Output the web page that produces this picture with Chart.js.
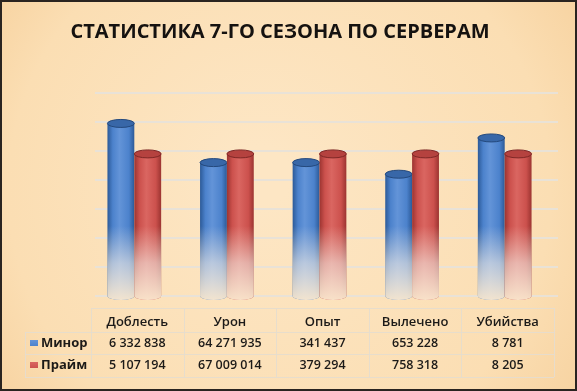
<!DOCTYPE html>
<html>
<head>
<meta charset="utf-8">
<script src="https://cdn.jsdelivr.net/npm/chart.js@4"></script>
<style>
  html, body { margin: 0; padding: 0; background: #fff; }
  #wrap { position: relative; width: 577px; height: 391px; }
</style>
</head>
<body>
<div id="wrap"><canvas id="seasonChart" width="577" height="391"></canvas></div>
<script>
// categories and series
const chartTitle = 'СТАТИСТИКА 7-ГО СЕЗОНА ПО СЕРВЕРАМ';
const categories = ['Доблесть', 'Урон', 'Опыт', 'Вылечено', 'Убийства'];
const seriesNames = ['Минор', 'Прайм'];
// raw numbers shown in the data table
const minorTable = ['6 332 838', '64 271 935', '341 437', '653 228', '8 781'];
const primeTable = ['5 107 194', '67 009 014', '379 294', '758 318', '8 205'];
// bar heights (relative index)
const minorBars = [119, 92, 92, 84, 109];
const primeBars = [98, 98, 98, 98, 98];
const yTicks = [0, 20, 40, 60, 80, 100, 120, 140];

const palette = {
    minor: { dark: '#2c5a98', mid: '#4c82cc', light: '#6394d8', cap: '#3867a8', rim: '#24497d' },
    prime: { dark: '#9c3431', mid: '#cc514d', light: '#da6661', cap: '#b5423f', rim: '#7e2826' }
};

// background, border, title
const backdrop = {
    id: 'backdrop',
    beforeDraw(chart) {
        const ctx = chart.ctx, w = chart.width, h = chart.height;
        ctx.save();
        const g = ctx.createRadialGradient(w * 0.45, h * 0.45, 30, w * 0.5, h * 0.5, w * 0.65);
        g.addColorStop(0, '#fde6c4');
        g.addColorStop(0.7, '#fbdeb3');
        g.addColorStop(1, '#f6d09c');
        ctx.fillStyle = g;
        ctx.fillRect(0, 0, w, h);
        ctx.strokeStyle = '#2a2420';
        ctx.lineWidth = 2;
        ctx.strokeRect(1, 1, w - 2, h - 2);
        ctx.fillStyle = '#151210';
        ctx.font = 'bold 20px "Open Sans"';
        ctx.textAlign = 'center';
        ctx.textBaseline = 'middle';
        ctx.fillText(chartTitle, 280, 32);
        ctx.restore();
    }
};

// back wall grid lines (slightly shifted like a 3D wall)
const wallGrid = {
    id: 'wallGrid',
    beforeDatasetsDraw(chart) {
        const ctx = chart.ctx, y = chart.scales.y, a = chart.chartArea;
        ctx.save();
        ctx.strokeStyle = 'rgba(232, 226, 216, 0.95)';
        ctx.lineWidth = 2;
        yTicks.forEach(t => {
            const py = Math.round(y.getPixelForValue(t));
            ctx.beginPath();
            ctx.moveTo(a.left + 7, py);
            ctx.lineTo(a.right + 7, py);
            ctx.stroke();
        });
        ctx.restore();
    }
};

// cylinders drawn at the bar elements' positions
const cylinders = {
    id: 'cylinders',
    afterDatasetsDraw(chart) {
        const ctx = chart.ctx;
        const fadeTop = 226;
        chart.data.datasets.forEach((ds, di) => {
            const col = di === 0 ? palette.minor : palette.prime;
            chart.getDatasetMeta(di).data.forEach(bar => {
                const p = bar.getProps(['x', 'y', 'base', 'width'], true);
                const l = p.x - p.width / 2, r = p.x + p.width / 2;
                const ry = 4;
                ctx.save();
                // body
                const hg = ctx.createLinearGradient(l, 0, r, 0);
                hg.addColorStop(0, col.dark);
                hg.addColorStop(0.2, col.mid);
                hg.addColorStop(0.45, col.light);
                hg.addColorStop(0.8, col.mid);
                hg.addColorStop(1, col.dark);
                ctx.beginPath();
                ctx.moveTo(l, p.y);
                ctx.lineTo(l, p.base);
                ctx.ellipse(p.x, p.base, p.width / 2, ry, 0, Math.PI, 0, true);
                ctx.lineTo(r, p.y);
                ctx.closePath();
                ctx.fillStyle = hg;
                ctx.fill();
                // fade towards the floor
                const vg = ctx.createLinearGradient(0, fadeTop, 0, p.base + ry);
                vg.addColorStop(0, 'rgba(246, 236, 224, 0)');
                vg.addColorStop(0.5, 'rgba(244, 236, 226, 0.6)');
                vg.addColorStop(1, 'rgba(250, 232, 206, 0.95)');
                ctx.fillStyle = vg;
                ctx.fill();
                // top cap
                ctx.beginPath();
                ctx.ellipse(p.x, p.y, p.width / 2, ry, 0, 0, Math.PI * 2);
                ctx.fillStyle = col.cap;
                ctx.fill();
                ctx.lineWidth = 1;
                ctx.strokeStyle = col.rim;
                ctx.stroke();
                ctx.restore();
            });
        });
    }
};

// data table with legend keys under the plot
const dataTable = {
    id: 'dataTable',
    afterDraw(chart) {
        const ctx = chart.ctx, x = chart.scales.x;
        const step = x.getPixelForValue(1) - x.getPixelForValue(0);
        const colX = categories.map((c, i) => x.getPixelForValue(i) + 3);
        const tLeft = 25, kLeft = colX[0] - step / 2, tRight = colX[colX.length - 1] + step / 2;
        const rows = [308, 332, 354, 377];
        ctx.save();
        ctx.strokeStyle = 'rgba(230, 220, 204, 0.95)';
        ctx.lineWidth = 1;
        ctx.beginPath();
        ctx.moveTo(kLeft, rows[0] + 0.5); ctx.lineTo(tRight, rows[0] + 0.5);
        [1, 2, 3].forEach(i => { ctx.moveTo(tLeft, rows[i] + 0.5); ctx.lineTo(tRight, rows[i] + 0.5); });
        ctx.moveTo(tLeft + 0.5, rows[1]); ctx.lineTo(tLeft + 0.5, rows[3]);
        for (let i = 0; i <= categories.length; i++) {
            const vx = Math.round(kLeft + i * step) + 0.5;
            ctx.moveTo(vx, rows[0]); ctx.lineTo(vx, rows[3]);
        }
        ctx.stroke();

        ctx.fillStyle = '#1c1a18';
        ctx.textAlign = 'center';
        ctx.textBaseline = 'middle';
        ctx.font = '600 13px "Open Sans"';
        categories.forEach((c, i) => ctx.fillText(c, colX[i], 322));
        ctx.font = '600 12.5px "Open Sans"';
        minorTable.forEach((v, i) => ctx.fillText(v, colX[i], 343));
        primeTable.forEach((v, i) => ctx.fillText(v, colX[i], 365));

        ctx.textAlign = 'left';
        ctx.font = 'bold 13px "Open Sans"';
        const keys = [palette.minor, palette.prime];
        seriesNames.forEach((n, i) => {
            const cy = i === 0 ? 343 : 365;
            const kg = ctx.createLinearGradient(0, cy - 3, 0, cy + 3);
            kg.addColorStop(0, keys[i].light);
            kg.addColorStop(1, keys[i].mid);
            ctx.fillStyle = kg;
            ctx.fillRect(30, cy - 3, 8, 6);
            ctx.fillStyle = '#1c1a18';
            ctx.fillText(n, 41, cy);
        });
        ctx.restore();
    }
};

new Chart(document.getElementById('seasonChart'), {
    type: 'bar',
    data: {
        labels: categories,
        datasets: [
            { label: seriesNames[0], data: minorBars, backgroundColor: 'rgba(0,0,0,0)' },
            { label: seriesNames[1], data: primeBars, backgroundColor: 'rgba(0,0,0,0)' }
        ]
    },
    options: {
        responsive: false,
        animation: false,
        layout: { padding: { left: 88, right: 26, top: 93, bottom: 95 } },
        datasets: { bar: { barPercentage: 1, categoryPercentage: 0.58 } },
        scales: {
            x: { display: false, grid: { display: false } },
            y: { display: false, min: 0, max: 140, grid: { display: false } }
        },
        plugins: {
            legend: { display: false },
            tooltip: { enabled: false },
            title: { display: false }
        }
    },
    plugins: [backdrop, wallGrid, cylinders, dataTable]
});
</script>
</body>
</html>
